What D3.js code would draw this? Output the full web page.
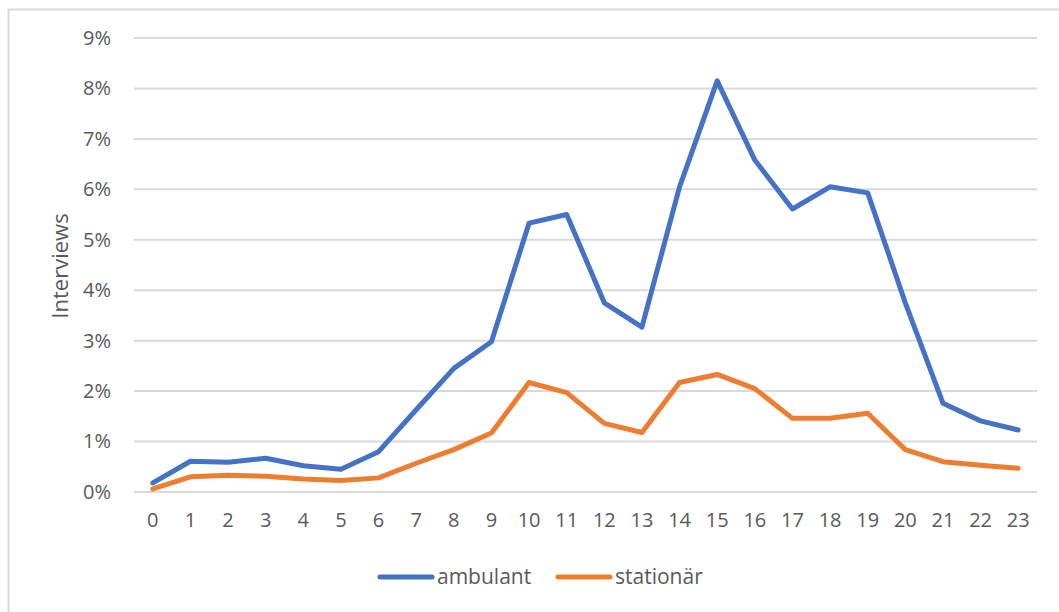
<!DOCTYPE html>
<html><head><meta charset="utf-8">
<script src="https://cdn.jsdelivr.net/npm/d3@7"></script>
<style>body{margin:0;background:#fff}svg{display:block;font-family:"Open Sans","Noto Sans",sans-serif}</style>
</head><body><svg id="c" width="1059" height="612"></svg>
<script>
const hours = ["0","1","2","3","4","5","6","7","8","9","10","11","12","13","14","15","16","17","18","19","20","21","22","23"];
const ambulant = [0.18,0.61,0.59,0.67,0.52,0.45,0.80,1.63,2.45,2.98,5.33,5.50,3.75,3.27,6.05,8.15,6.58,5.61,6.05,5.93,3.75,1.76,1.41,1.23];
const stationaer = [0.06,0.30,0.33,0.31,0.26,0.23,0.28,0.57,0.84,1.17,2.17,1.97,1.36,1.18,2.17,2.33,2.05,1.46,1.46,1.56,0.84,0.60,0.53,0.47];
const yTicks = [0,1,2,3,4,5,6,7,8,9];
const seriesNames = ["ambulant","stationär"];
const colors = ["#4472C4","#ED7D31"];

const svg = d3.select("#c");
svg.append("path").attr("d","M8.5,612 V9.5 H1059").attr("fill","none").attr("stroke","#d9d9d9").attr("stroke-width",2);

const x = d3.scaleBand().domain(hours).range([134,1037]);
const y = d3.scaleLinear().domain([0,9]).range([492,38]);

svg.append("g").selectAll("line").data(yTicks).join("line")
  .attr("x1",134).attr("x2",1037).attr("y1",d=>y(d)).attr("y2",d=>y(d))
  .attr("stroke","#d9d9d9").attr("stroke-width",2);

const yAxis = svg.append("g").attr("transform","translate(134,0)")
  .call(d3.axisLeft(y).tickValues(yTicks).tickFormat(d=>d+"%").tickSize(0).tickPadding(23));
yAxis.select(".domain").remove();
yAxis.selectAll("text").attr("fill","#595959").style("font-size","20px").style("font-family","'Open Sans',sans-serif");

const xAxis = svg.append("g").attr("transform","translate(0,492)")
  .call(d3.axisBottom(x).tickSize(0).tickPadding(21));
xAxis.select(".domain").remove();
xAxis.selectAll("text").attr("fill","#595959").style("font-size","20px").style("font-family","'Open Sans',sans-serif");

svg.append("text").attr("transform","translate(68,266) rotate(-90)").attr("text-anchor","middle")
  .attr("fill","#595959").style("font-size","22px").text("Interviews");

const line = d3.line().x((d,i)=>x(hours[i])+x.bandwidth()/2).y(d=>y(d));
[ambulant, stationaer].forEach((s,k)=>{
  svg.append("path").datum(s).attr("d",line).attr("fill","none")
    .attr("stroke",colors[k]).attr("stroke-width",5).attr("stroke-linejoin","round").attr("stroke-linecap","round");
});

const legX = [380, 558];
seriesNames.forEach((n,k)=>{
  svg.append("line").attr("x1",legX[k]).attr("x2",legX[k]+52).attr("y1",577).attr("y2",577)
    .attr("stroke",colors[k]).attr("stroke-width",5).attr("stroke-linecap","round");
  svg.append("text").attr("x",legX[k]+57).attr("y",584).attr("fill","#595959").style("font-size","21px").text(n);
});
</script></body></html>
